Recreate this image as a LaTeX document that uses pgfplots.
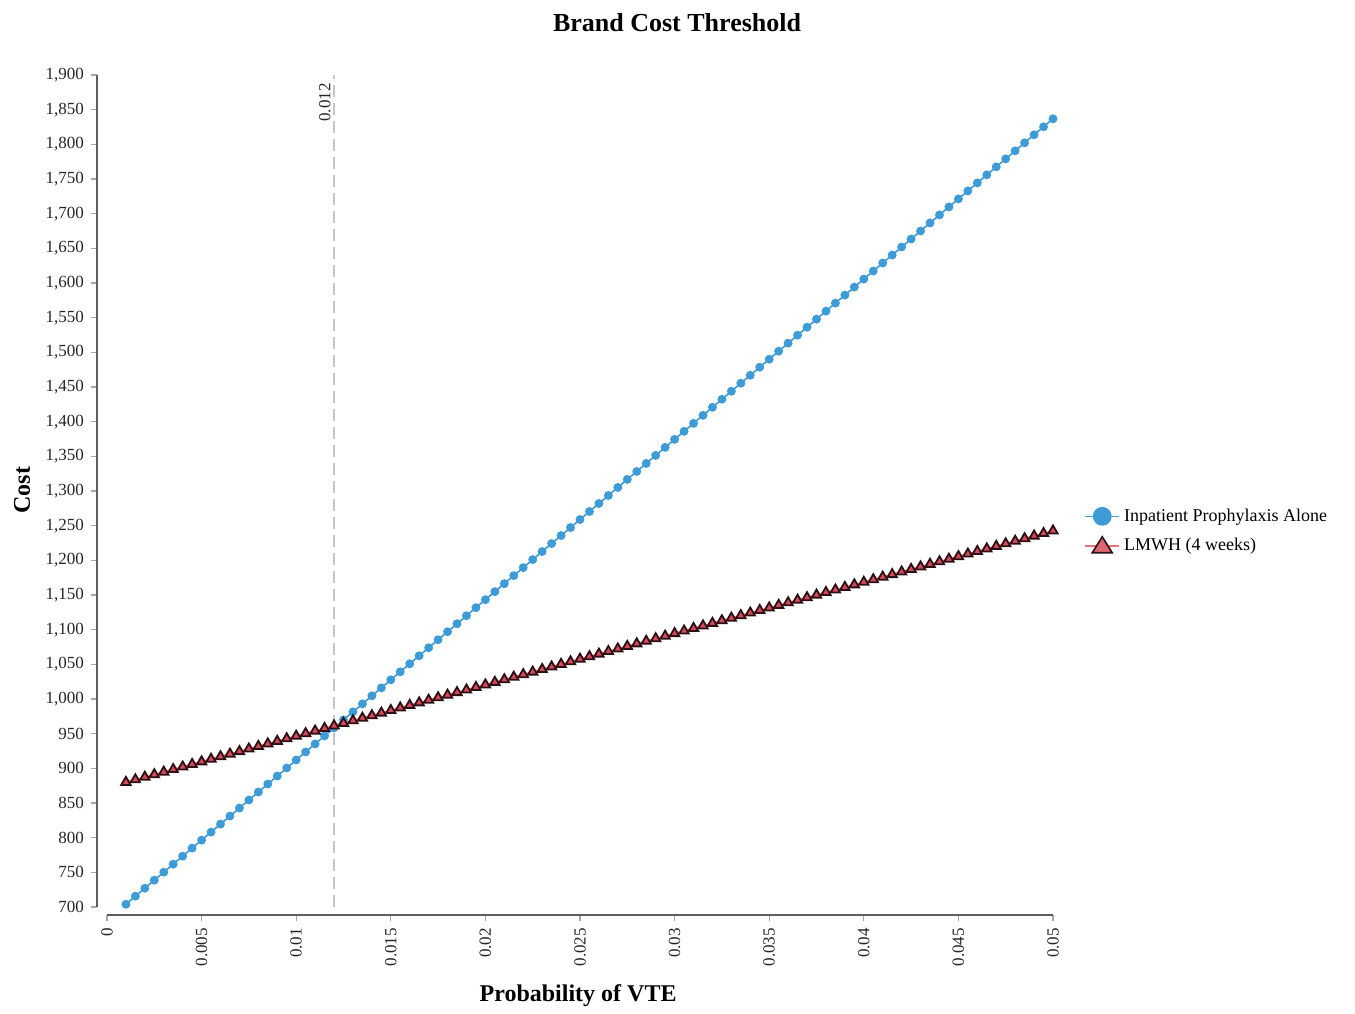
\documentclass[border=0pt]{standalone}
\usepackage{pgfplots}
\pgfplotsset{compat=1.18}
\usepackage{pgfplotstable}
\usepackage{fontspec}
\setmainfont{Liberation Serif}
\definecolor{blu}{HTML}{3D9BD8}
\definecolor{lnred}{HTML}{E8707A}
\definecolor{trifill}{HTML}{D64A5A}
\definecolor{tridraw}{HTML}{2E1014}
\definecolor{axgray}{HTML}{5E5E5E}

\pgfplotstableread{
x blue red
0.0010 704.00 880.0
0.0015 715.56 883.7
0.0020 727.12 887.4
0.0025 738.68 891.1
0.0030 750.24 894.8
0.0035 761.80 898.5
0.0040 773.36 902.2
0.0045 784.92 905.9
0.0050 796.48 909.6
0.0055 808.04 913.3
0.0060 819.60 917.0
0.0065 831.16 920.7
0.0070 842.72 924.4
0.0075 854.28 928.1
0.0080 865.84 931.8
0.0085 877.40 935.5
0.0090 888.96 939.2
0.0095 900.52 942.9
0.0100 912.08 946.6
0.0105 923.64 950.3
0.0110 935.20 954.0
0.0115 946.76 957.7
0.0120 958.32 961.4
0.0125 969.88 965.1
0.0130 981.44 968.8
0.0135 993.00 972.5
0.0140 1004.56 976.2
0.0145 1016.12 979.9
0.0150 1027.68 983.6
0.0155 1039.24 987.3
0.0160 1050.80 991.0
0.0165 1062.36 994.7
0.0170 1073.92 998.4
0.0175 1085.48 1002.1
0.0180 1097.04 1005.8
0.0185 1108.60 1009.5
0.0190 1120.16 1013.2
0.0195 1131.72 1016.9
0.0200 1143.28 1020.6
0.0205 1154.84 1024.3
0.0210 1166.40 1028.0
0.0215 1177.96 1031.7
0.0220 1189.52 1035.4
0.0225 1201.08 1039.1
0.0230 1212.64 1042.8
0.0235 1224.20 1046.5
0.0240 1235.76 1050.2
0.0245 1247.32 1053.9
0.0250 1258.88 1057.6
0.0255 1270.44 1061.3
0.0260 1282.00 1065.0
0.0265 1293.56 1068.7
0.0270 1305.12 1072.4
0.0275 1316.68 1076.1
0.0280 1328.24 1079.8
0.0285 1339.80 1083.5
0.0290 1351.36 1087.2
0.0295 1362.92 1090.9
0.0300 1374.48 1094.6
0.0305 1386.04 1098.3
0.0310 1397.60 1102.0
0.0315 1409.16 1105.7
0.0320 1420.72 1109.4
0.0325 1432.28 1113.1
0.0330 1443.84 1116.8
0.0335 1455.40 1120.5
0.0340 1466.96 1124.2
0.0345 1478.52 1127.9
0.0350 1490.08 1131.6
0.0355 1501.64 1135.3
0.0360 1513.20 1139.0
0.0365 1524.76 1142.7
0.0370 1536.32 1146.4
0.0375 1547.88 1150.1
0.0380 1559.44 1153.8
0.0385 1571.00 1157.5
0.0390 1582.56 1161.2
0.0395 1594.12 1164.9
0.0400 1605.68 1168.6
0.0405 1617.24 1172.3
0.0410 1628.80 1176.0
0.0415 1640.36 1179.7
0.0420 1651.92 1183.4
0.0425 1663.48 1187.1
0.0430 1675.04 1190.8
0.0435 1686.60 1194.5
0.0440 1698.16 1198.2
0.0445 1709.72 1201.9
0.0450 1721.28 1205.6
0.0455 1732.84 1209.3
0.0460 1744.40 1213.0
0.0465 1755.96 1216.7
0.0470 1767.52 1220.4
0.0475 1779.08 1224.1
0.0480 1790.64 1227.8
0.0485 1802.20 1231.5
0.0490 1813.76 1235.2
0.0495 1825.32 1238.9
0.0500 1836.88 1242.6
}\datatable

\begin{document}
\begin{tikzpicture}
\begin{axis}[
  scale only axis, width=473pt, height=416pt,
  xmin=0, xmax=0.05, ymin=700, ymax=1900,
  clip=false,
  axis x line*=bottom, axis y line*=left,
  axis x line shift=4pt, axis y line shift=5pt,
  axis line style={axgray, line width=1.4pt},
  tick align=outside, major tick length=3pt,
  tick style={gray!70, line width=0.6pt},
  xtick={0,0.005,...,0.0501}, ytick={700,750,...,1900},
  scaled x ticks=false,
  xticklabel style={rotate=90, anchor=east, /pgf/number format/fixed, /pgf/number format/precision=3},
  yticklabel style={/pgf/number format/1000 sep={,}},
  /pgf/number format/assume math mode=true,
  ticklabel style={font=\fontsize{8.5}{10}\selectfont, text=black!85},
  xlabel={\textbf{Probability of VTE}},
  ylabel={\textbf{Cost}},
  xlabel style={at={(axis description cs:0.498,-0.106)}, anchor=center, font=\fontsize{12}{14}\selectfont},
  ylabel style={at={(axis description cs:-0.0899,0.501)}, anchor=center, font=\fontsize{12}{14}\selectfont},
  legend style={at={(axis description cs:1.0264,0.489)}, anchor=north west, draw=none, fill=none,
    font=\fontsize{9}{11}\selectfont, row sep=3pt, cells={anchor=west}},
]
\coordinate (bbll) at (axis cs:-0.005655,547.1);
\coordinate (bbur) at (axis cs:0.065962,2008.2);
\node[font=\fontsize{13}{15}\selectfont\bfseries] at (axis cs:0.03013,1976) {Brand Cost Threshold};

\addplot[gray!45, dashed, dash pattern=on 6pt off 3pt, line width=0.7pt, forget plot] coordinates {(0.012,700) (0.012,1900)};
\node[rotate=90, anchor=south east, inner sep=1.5pt, font=\fontsize{8.5}{10}\selectfont, text=black!85] at (axis cs:0.012,1893) {0.012};

\addplot[blu, line width=0.8pt, mark=*, mark size=1.8pt, mark options={fill=blu, draw=blu},
  legend image code/.code={\draw[blu, line width=0.8pt] (0cm,0cm) -- (0.6cm,0cm); \fill[blu] (0.3cm,0cm) circle (4.3pt);}]
  table[x=x, y=blue] {\datatable};
\addlegendentry{Inpatient Prophylaxis Alone}

\addplot[lnred, line width=0.8pt, mark=triangle*, mark size=2.7pt, mark options={fill=trifill, draw=tridraw, line width=0.9pt},
  legend image code/.code={\draw[lnred, line width=0.8pt] (0cm,0cm) -- (0.6cm,0cm); \draw[tridraw, fill=trifill!85!white, line width=0.8pt] (0.3cm,4.5pt) -- (0.3cm-5pt,-3.5pt) -- (0.3cm+5pt,-3.5pt) -- cycle;}]
  table[x=x, y=red] {\datatable};
\addlegendentry{LMWH (4 weeks)}
\end{axis}
\pgfresetboundingbox
\path (bbll) rectangle (bbur);
\end{tikzpicture}
\end{document}
